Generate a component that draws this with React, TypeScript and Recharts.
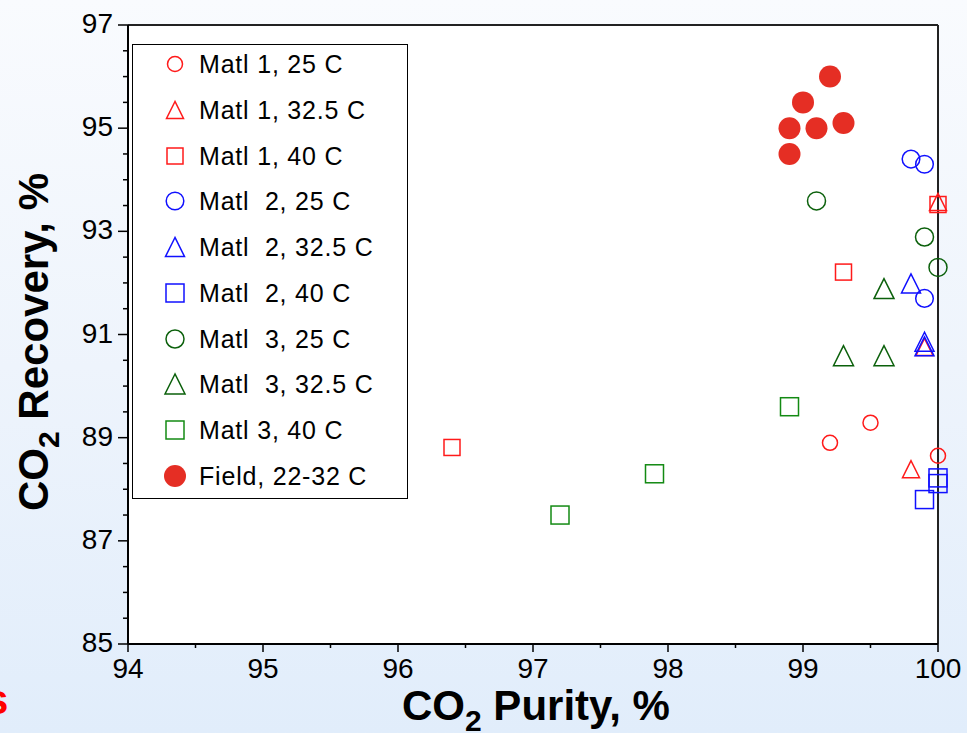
import React from 'react';
import {
  ScatterChart,
  Scatter,
  XAxis,
  YAxis,
  CartesianGrid,
  ReferenceLine,
  Legend,
  Customized,
} from 'recharts';

type Pt = { x: number; y: number };

// CO2 purity (x, %) vs CO2 recovery (y, %)
const matl1At25: Pt[] = [
  { x: 99.2, y: 88.9 },
  { x: 99.5, y: 89.29 },
  { x: 100, y: 88.65 },
];
const matl1At32: Pt[] = [
  { x: 100, y: 93.57 },
  { x: 99.8, y: 88.39 },
  { x: 99.9, y: 90.76 },
];
const matl1At40: Pt[] = [
  { x: 96.4, y: 88.81 },
  { x: 99.3, y: 92.21 },
  { x: 100, y: 93.52 },
];
const matl2At25: Pt[] = [
  { x: 99.8, y: 94.4 },
  { x: 99.9, y: 94.3 },
  { x: 99.9, y: 91.7 },
];
const matl2At32: Pt[] = [
  { x: 99.8, y: 91.99 },
  { x: 99.9, y: 90.86 },
  { x: 99.9, y: 90.77 },
];
const matl2At40: Pt[] = [
  { x: 99.9, y: 87.8 },
  { x: 100, y: 88.22 },
  { x: 100, y: 88.11 },
];
const matl3At25: Pt[] = [
  { x: 99.1, y: 93.59 },
  { x: 99.9, y: 92.89 },
  { x: 100, y: 92.3 },
];
const matl3At32: Pt[] = [
  { x: 99.6, y: 91.89 },
  { x: 99.3, y: 90.59 },
  { x: 99.6, y: 90.59 },
];
const matl3At40: Pt[] = [
  { x: 97.2, y: 87.5 },
  { x: 97.9, y: 88.3 },
  { x: 98.9, y: 89.6 },
];
const field: Pt[] = [
  { x: 98.9, y: 94.5 },
  { x: 98.9, y: 95.0 },
  { x: 99.0, y: 95.5 },
  { x: 99.1, y: 95.0 },
  { x: 99.2, y: 96.0 },
  { x: 99.3, y: 95.1 },
];

const xTicks = [94, 94.5, 95, 95.5, 96, 96.5, 97, 97.5, 98, 98.5, 99, 99.5, 100];
const yTicks = [
  85, 85.5, 86, 86.5, 87, 87.5, 88, 88.5, 89, 89.5, 90, 90.5, 91, 91.5, 92, 92.5,
  93, 93.5, 94, 94.5, 95, 95.5, 96, 96.5, 97,
];

const RED = '#ff1a1a';
const BLUE = '#1010ff';
const GREEN = '#0b600b';
const GREEN_SQ = '#138a13';
const FIELD_RED = '#e52e24';

type Kind = 'circle' | 'triangle' | 'square' | 'dot';

const series = [
  { name: 'Matl 1, 25 C', data: matl1At25, kind: 'circle' as Kind, color: RED, size: 7.5 },
  { name: 'Matl 1, 32.5 C', data: matl1At32, kind: 'triangle' as Kind, color: RED, size: 17 },
  { name: 'Matl 1, 40 C', data: matl1At40, kind: 'square' as Kind, color: RED, size: 16 },
  { name: 'Matl  2, 25 C', data: matl2At25, kind: 'circle' as Kind, color: BLUE, size: 8.8 },
  { name: 'Matl  2, 32.5 C', data: matl2At32, kind: 'triangle' as Kind, color: BLUE, size: 19 },
  { name: 'Matl  2, 40 C', data: matl2At40, kind: 'square' as Kind, color: BLUE, size: 18 },
  { name: 'Matl  3, 25 C', data: matl3At25, kind: 'circle' as Kind, color: GREEN, size: 9 },
  { name: 'Matl  3, 32.5 C', data: matl3At32, kind: 'triangle' as Kind, color: GREEN, size: 20 },
  { name: 'Matl 3, 40 C', data: matl3At40, kind: 'square' as Kind, color: GREEN_SQ, size: 18 },
  { name: 'Field, 22-32 C', data: field, kind: 'dot' as Kind, color: FIELD_RED, size: 11 },
];

const FONT = '"Liberation Sans", Arial, Helvetica, sans-serif';

function Marker({ kind, color, size, cx, cy }: { kind: Kind; color: string; size: number; cx: number; cy: number }) {
  const sw = 1.5;
  if (kind === 'circle') {
    return <circle cx={cx} cy={cy} r={size} fill="none" stroke={color} strokeWidth={sw} />;
  }
  if (kind === 'dot') {
    return <circle cx={cx} cy={cy} r={size} fill={color} stroke="none" />;
  }
  if (kind === 'square') {
    const h = size / 2;
    return <rect x={cx - h} y={cy - h} width={size} height={size} fill="none" stroke={color} strokeWidth={sw} />;
  }
  const h = size / 2;
  const pts = `${cx},${cy - h} ${cx - h},${cy + h} ${cx + h},${cy + h}`;
  return <polygon points={pts} fill="none" stroke={color} strokeWidth={sw} />;
}

const makeShape = (kind: Kind, color: string, size: number) => (props: any) => (
  <Marker kind={kind} color={color} size={size} cx={props.cx} cy={props.cy} />
);

const XTick = (props: any) => {
  const { x, y, payload } = props;
  const major = Number.isInteger(payload.value);
  return (
    <g>
      <line x1={x} x2={x} y1={y} y2={y + (major ? 8 : 4)} stroke="#000" strokeWidth={1.5} />
      {major && (
        <text x={x} y={y + 34} textAnchor="middle" fontSize={28} fontFamily={FONT} fill="#000">
          {payload.value}
        </text>
      )}
    </g>
  );
};

const YTick = (props: any) => {
  const { x, y, payload } = props;
  const major = Number.isInteger(payload.value) && payload.value % 2 === 1;
  return (
    <g>
      <line x1={x - (major ? 10 : 5)} x2={x} y1={y} y2={y} stroke="#000" strokeWidth={1.5} />
      {major && (
        <text x={x - 15} y={y + 8} textAnchor="end" fontSize={28} fontFamily={FONT} fill="#000">
          {payload.value}
        </text>
      )}
    </g>
  );
};

const LegendBox = () => (
  <div
    style={{
      width: 274,
      height: 453,
      border: '1.5px solid #000',
      background: '#fff',
      boxSizing: 'content-box',
      fontFamily: FONT,
      position: 'relative',
    }}
  >
    {series.map((s, i) => (
      <div
        key={s.name}
        style={{
          position: 'absolute',
          left: 0,
          top: 19.3 + i * 45.7 - 20,
          height: 40,
          display: 'flex',
          alignItems: 'center',
        }}
      >
        <svg width={66} height={40} style={{ display: 'block' }}>
          <Marker kind={s.kind} color={s.color} size={s.size} cx={42} cy={20} />
        </svg>
        <span style={{ fontSize: 25, letterSpacing: 0.8, whiteSpace: 'pre', color: '#000', marginTop: 1 }}>
          {s.name}
        </span>
      </div>
    ))}
  </div>
);

const Titles = () => (
  <g fontFamily={FONT} fontWeight="bold" fill="#000">
    <text x={536} y={720} textAnchor="middle" fontSize={42}>
      CO
      <tspan fontSize={30} dy={11}>2</tspan>
      <tspan dy={-11}> Purity, %</tspan>
    </text>
    <text x={0} y={0} textAnchor="middle" fontSize={42} transform="translate(48 342) rotate(-90)">
      CO
      <tspan fontSize={30} dy={11}>2</tspan>
      <tspan dy={-11}> Recovery, %</tspan>
    </text>
    <text x={-15} y={714} fontSize={42} fill="#ff0000">
      s
    </text>
  </g>
);

export default function App() {
  return (
    <div
      style={{
        position: 'absolute',
        left: 0,
        top: 0,
        width: 967,
        height: 733,
        background: 'linear-gradient(to bottom, #f9fbfe 0%, #eef4fc 50%, #e1edfb 100%)',
      }}
    >
      <ScatterChart width={967} height={733} margin={{ top: 25, right: 29, bottom: 49, left: 68 }}>
        <CartesianGrid horizontal={false} vertical={false} fill="#ffffff" />
        <XAxis
          type="number"
          dataKey="x"
          domain={[94, 100]}
          ticks={xTicks}
          interval={0}
          height={40}
          tickSize={0}
          tickMargin={0}
          tickLine={false}
          axisLine={{ stroke: '#000', strokeWidth: 2 }}
          tick={<XTick />}
        />
        <YAxis
          type="number"
          dataKey="y"
          domain={[85, 97]}
          ticks={yTicks}
          interval={0}
          width={60}
          tickSize={0}
          tickMargin={0}
          tickLine={false}
          axisLine={{ stroke: '#000', strokeWidth: 2 }}
          tick={<YTick />}
        />
        <ReferenceLine y={97} stroke="#222" strokeWidth={2} />
        <ReferenceLine x={100} stroke="#222" strokeWidth={2} />
        {series.map((s) => (
          <Scatter
            key={s.name}
            name={s.name}
            data={s.data}
            isAnimationActive={false}
            shape={makeShape(s.kind, s.color, s.size)}
          />
        ))}
        <Legend
          layout="vertical"
          align="center"
          verticalAlign="middle"
          wrapperStyle={{ left: 132, top: 44, width: 'auto' }}
          content={<LegendBox />}
        />
        <Customized component={<Titles />} />
      </ScatterChart>
    </div>
  );
}
